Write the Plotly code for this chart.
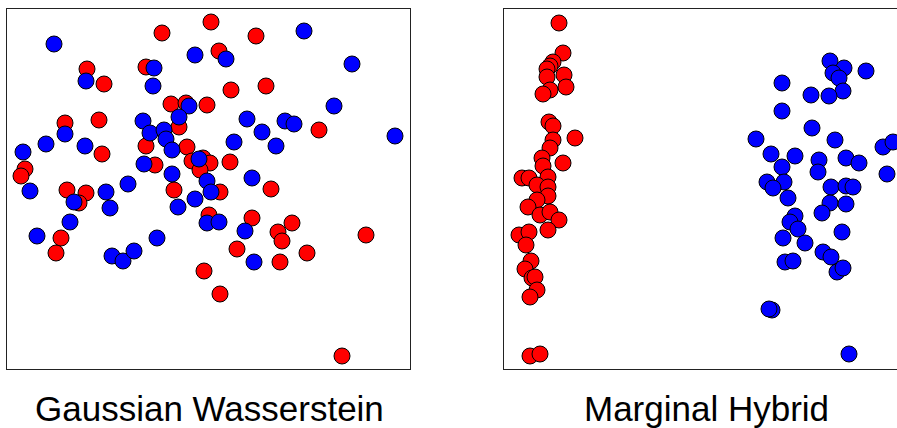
import plotly.graph_objects as go

# Panel 1: Gaussian Wasserstein (coordinates read in picture units)
gw_red_x = [162, 211, 256, 219, 87, 104, 146, 171, 186, 207, 179, 65, 99, 231, 266,
            146, 187, 102, 25, 21, 155, 192, 203, 210, 200, 230, 319, 67, 86, 79,
            174, 220, 271, 61, 56, 209, 252, 292, 278, 282, 237, 307, 366, 280, 204,
            220, 342]
gw_red_y = [33, 22, 36, 51, 69, 84, 67, 104, 103, 105, 127, 123, 120, 90, 86,
            146, 147, 154, 169, 176, 165, 161, 158, 163, 170, 162, 130, 190, 193, 203,
            190, 192, 189, 238, 253, 215, 218, 223, 232, 241, 249, 253, 235, 262, 271,
            294, 356]
gw_blue_x = [54, 195, 226, 304, 352, 86, 154, 153, 189, 179, 143, 150, 164, 166, 65,
             46, 85, 23, 172, 247, 262, 285, 294, 334, 395, 234, 276, 144, 199, 172,
             252, 207, 211, 128, 30, 106, 74, 110, 178, 195, 207, 219, 245, 70, 37,
             157, 112, 123, 134, 254]
gw_blue_y = [44, 55, 59, 31, 64, 81, 68, 86, 106, 117, 121, 133, 130, 139, 134,
             144, 146, 152, 150, 119, 132, 121, 124, 106, 136, 142, 146, 164, 159, 174,
             178, 181, 192, 184, 191, 192, 202, 208, 207, 199, 223, 222, 231, 222, 236,
             238, 256, 261, 251, 262]

# Panel 2: Marginal Hybrid
mh_red_x = [559, 563, 553, 550, 547, 547, 564, 566, 550, 543, 549, 553, 575, 553, 550,
            542, 563, 543, 522, 529, 548, 537, 548, 548, 537, 528, 540, 550, 559, 548,
            519, 529, 526, 531, 525, 532, 535, 537, 530, 530, 540]
mh_red_y = [23, 53, 62, 66, 69, 77, 75, 87, 90, 94, 122, 126, 138, 140, 148,
            158, 163, 166, 178, 178, 177, 185, 187, 196, 200, 207, 215, 212, 220, 230,
            235, 232, 245, 261, 269, 278, 277, 290, 297, 356, 354]
mh_blue_x = [830, 844, 833, 839, 866, 843, 829, 811, 782, 782, 812, 835, 756, 771, 795,
             782, 819, 818, 846, 859, 883, 893, 887, 767, 784, 773, 831, 846, 853, 788,
             830, 846, 822, 795, 790, 798, 783, 805, 842, 823, 831, 837, 843, 785, 793,
             772, 769, 849]
mh_blue_y = [61, 68, 73, 78, 71, 91, 96, 95, 83, 111, 128, 140, 139, 154, 156,
             167, 160, 172, 158, 163, 147, 142, 174, 182, 182, 188, 187, 186, 187, 198,
             203, 204, 213, 216, 222, 229, 238, 243, 232, 252, 257, 272, 268, 262, 261,
             310, 309, 354]

titles = ["Gaussian Wasserstein", "Marginal Hybrid"]

W, H = 897, 428
RED, BLUE = "#ff0000", "#0000ff"

def mk(x, y, color, xa, ya):
    return go.Scatter(x=x, y=y, mode="markers", xaxis=xa, yaxis=ya, showlegend=False,
                      hoverinfo="skip",
                      marker=dict(size=16, color=color, line=dict(color="black", width=1)))

fig = go.Figure()
fig.add_trace(mk(gw_red_x, gw_red_y, RED, "x", "y"))
fig.add_trace(mk(gw_blue_x, gw_blue_y, BLUE, "x", "y"))
fig.add_trace(mk(mh_red_x, mh_red_y, RED, "x2", "y2"))
fig.add_trace(mk(mh_blue_x, mh_blue_y, BLUE, "x2", "y2"))

ydom = [1 - 369 / H, 1 - 9 / H]
common = dict(showgrid=False, zeroline=False, showticklabels=False, ticks="",
              showline=True, linecolor="#222", linewidth=1)
fig.update_layout(
    width=W, height=H, margin=dict(l=0, r=0, t=0, b=0),
    paper_bgcolor="white", plot_bgcolor="white",
    xaxis=dict(domain=[7 / W, 410 / W], range=[7, 410], mirror=True, **common),
    yaxis=dict(domain=ydom, range=[369, 9], mirror=True, **common),
    xaxis2=dict(domain=[504 / W, 1.0], range=[504, 897], mirror=True, anchor="y2", **common),
    yaxis2=dict(domain=ydom, range=[369, 9], mirror=False, anchor="x2", **common),
    font=dict(family="Liberation Sans, Arial, sans-serif", color="black"),
)
for cx, t in zip([209, 706], titles):
    fig.add_annotation(text=t, x=cx / W, y=1 - 408 / H, xref="paper", yref="paper",
                       xanchor="center", yanchor="middle", showarrow=False, borderpad=0,
                       font=dict(size=35, color="black"))

fig.write_html("out.html", config={"displayModeBar": False},
               post_script="document.body.style.margin='0';document.body.style.overflow='hidden';")
